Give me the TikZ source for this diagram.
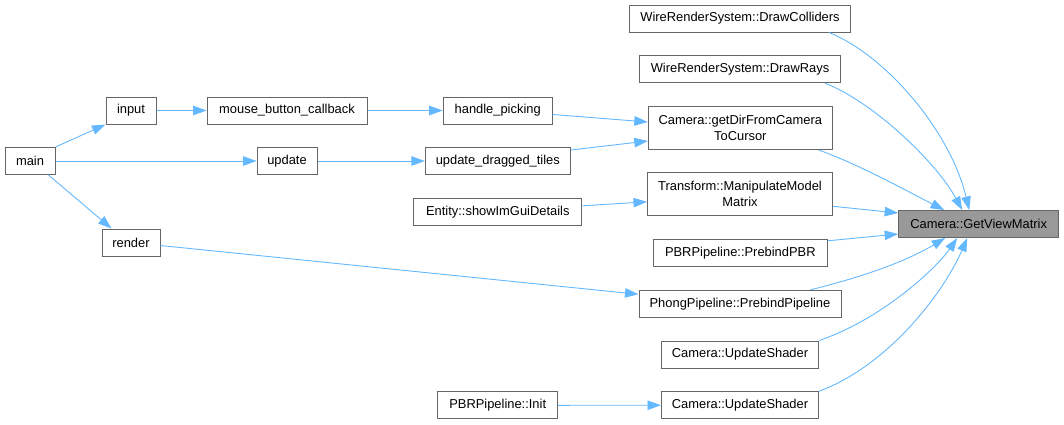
\documentclass[tikz,border=0pt]{standalone}
\usepackage{fontspec}
\setmainfont{Liberation Sans}
\usetikzlibrary{arrows.meta,calc}
\definecolor{boxgray}{HTML}{666666}
\definecolor{edgeblue}{HTML}{63B8FF}
\definecolor{hlgray}{HTML}{999999}
\begin{document}
\begin{tikzpicture}[x=1pt,y=-1pt,
  box/.style={draw=boxgray,line width=1pt,fill=white,inner sep=0pt,
    font=\fontsize{12.9}{16}\selectfont,align=center,minimum height=27pt},
  tall/.style={minimum height=43pt},
  hl/.style={fill=hlgray},
  edge/.style={draw=edgeblue,line width=0.9pt,-{Triangle[length=13.5pt,width=9.5pt]}}]
\useasboundingbox (0,0) rectangle (1064,424);

% nodes
\node[box,minimum width=50pt]  (main)  at (30,161)    {main};
\node[box,minimum width=50pt]  (input) at (131,110.5) {input};
\node[box,minimum width=160pt] (mbc)   at (287,110.5) {mouse\_button\_callback};
\node[box,minimum width=60pt]  (upd)   at (287,161)   {update};
\node[box,minimum width=58pt]  (rend)  at (131,242.5) {render};
\node[box,minimum width=109pt] (hp)    at (497.7,110.5) {handle\_picking};
\node[box,minimum width=145pt] (udt)   at (497.8,161)   {update\_dragged\_tiles};
\node[box,minimum width=168pt] (ent)   at (497.8,211.8) {Entity::showImGuiDetails};
\node[box,minimum width=120pt] (pbi)   at (497.7,405.3) {PBRPipeline::Init};

\node[box,minimum width=221pt] (dc)  at (740,18.5)  {WireRenderSystem::DrawColliders};
\node[box,minimum width=201pt] (dr)  at (740,69.3)  {WireRenderSystem::DrawRays};
\node[box,tall,minimum width=184pt] (gd) at (740.3,128) {Camera::getDirFromCamera\\ToCursor};
\node[box,tall,minimum width=185pt] (tf) at (740,194.3) {Transform::ManipulateModel\\Matrix};
\node[box,minimum width=174pt] (pb)  at (740.3,253.3) {PBRPipeline::PrebindPBR};
\node[box,minimum width=202pt] (ph)  at (740,303.8) {PhongPipeline::PrebindPipeline};
\node[box,minimum width=157pt] (us1) at (740,354.5) {Camera::UpdateShader};
\node[box,minimum width=157pt] (us2) at (740,405.2) {Camera::UpdateShader};

\node[box,hl,minimum width=160pt] (gv) at (978.7,224) {Camera::GetViewMatrix};

% left part
\draw[edge] (main.north east) -- (input.south west);
\draw[edge] (main.east) -- (upd.west);
\draw[edge] ($(main.south east)+(-7,0)$) -- ($(rend.north west)+(10,0)$);
\draw[edge] (input.east) -- (mbc.west);
\draw[edge] (mbc.east) -- (hp.west);
\draw[edge] (upd.east) -- (udt.west);
\draw[edge] ($(hp.east)+(0,4)$) -- ($(gd.west)+(0,-6)$);
\draw[edge] ($(udt.north east)+(0,3)$) -- ($(gd.west)+(0,13)$);
\draw[edge] ($(ent.east)+(0,-6)$) -- ($(tf.west)+(0,7.5)$);
\draw[edge] ($(rend.east)+(0,3)$) -- ($(ph.west)+(0,-9.5)$);
\draw[edge] (pbi.east) -- (us2.west);

% into GetViewMatrix
\draw[edge] ($(dc.south east)+(-22,0)$) .. controls (885,55) and (950,130) .. ($(gv.north west)+(71,0)$);
\draw[edge] ($(dr.south east)+(-16,0)$) .. controls (870,100) and (935,160) .. ($(gv.north west)+(64,0)$);
\draw[edge] ($(gd.south east)+(-14,0)$) .. controls (860,165) and (905,190) .. ($(gv.north west)+(46,0)$);
\draw[edge] ($(tf.east)+(0,12)$) -- ($(gv.west)+(0,-11)$);
\draw[edge] ($(pb.north east)+(0,1.5)$) -- ($(gv.west)+(0,10)$);
\draw[edge] ($(ph.north east)+(-31,0)$) .. controls (850,280) and (900,265) .. ($(gv.south west)+(47,0)$);
\draw[edge] (us1.north east) .. controls (880,320) and (935,270) .. ($(gv.south west)+(59,0)$);
\draw[edge] (us2.north east) .. controls (890,365) and (945,290) .. ($(gv.south west)+(69,0)$);
\end{tikzpicture}
\end{document}
